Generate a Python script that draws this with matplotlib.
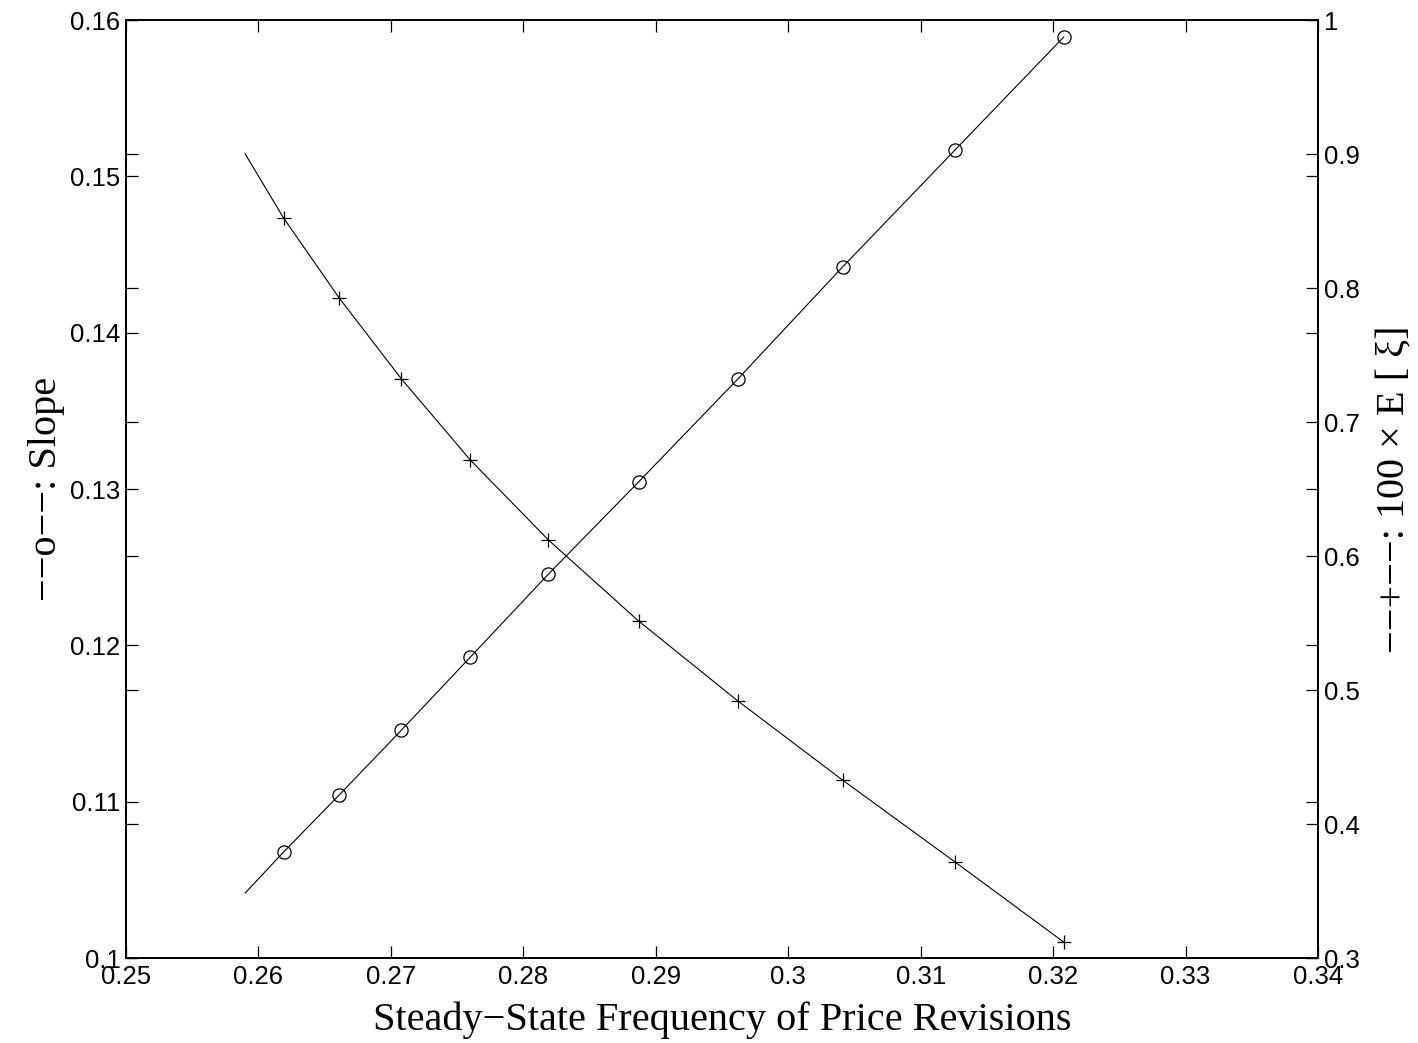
import numpy as np
import matplotlib
matplotlib.use("Agg")
import matplotlib.pyplot as plt
from matplotlib.ticker import FormatStrFormatter

# frequency of price revisions (first point is the line start, no marker)
freq = [0.2590, 0.2619, 0.2661, 0.2708, 0.2760, 0.2819, 0.2887,
        0.2962, 0.3041, 0.3126, 0.3208]

# slope (left axis), marked with 'o'
slope = [0.10416, 0.10678, 0.11043, 0.11458, 0.11925, 0.12456, 0.13045,
         0.13704, 0.14420, 0.15169, 0.15891]

# 100 x E[xi] (right axis), marked with '+'
exi = [0.9000, 0.8522, 0.7925, 0.7321, 0.6716, 0.6119, 0.5515,
       0.4918, 0.4328, 0.3716, 0.3119]

xticks = np.arange(0.25, 0.3401, 0.01)
lticks = np.arange(0.10, 0.1601, 0.01)
rticks = np.arange(0.3, 1.001, 0.1)

tickfont = "Liberation Sans"
labfont = "Liberation Serif"

fig = plt.figure(figsize=(14.18, 10.43), dpi=100)
ax = fig.add_axes([126/1418, 1 - 958/1043, (1318-126)/1418, (958-20)/1043])
ax2 = ax.twinx()

ax.plot(freq, slope, color="k", lw=0.8, marker="o", markevery=list(range(1, len(freq))),
        ms=9.5, mfc="none", mec="k", mew=0.9)
ax2.plot(freq, exi, color="k", lw=0.8, marker="+", markevery=list(range(1, len(freq))),
         ms=10, mec="k", mew=0.9)

ax.set_xlim(0.25, 0.34)
ax.set_ylim(0.1, 0.16)
ax2.set_ylim(0.3, 1.0)
ax.set_xticks(xticks)
ax.set_yticks(lticks)
ax2.set_yticks(rticks)
ax.xaxis.set_major_formatter(FormatStrFormatter("%g"))
ax.yaxis.set_major_formatter(FormatStrFormatter("%g"))
ax2.yaxis.set_major_formatter(FormatStrFormatter("%g"))

ax.tick_params(axis="both", direction="in", length=8.5, width=0.9,
               labelsize=18.5, pad=4, top=True, right=True)
ax2.tick_params(axis="y", direction="in", length=8.5, width=0.9,
                labelsize=18.5, pad=4, left=True)
ax.tick_params(axis="x", pad=5)

for a in (ax, ax2):
    for sp in a.spines.values():
        sp.set_linewidth(1.3)
    for lab in a.get_xticklabels() + a.get_yticklabels():
        lab.set_fontfamily(tickfont)

ax.set_xlabel("Steady\u2212State Frequency of Price Revisions",
              fontfamily=labfont, fontsize=29, labelpad=9)
ax.set_ylabel("\u2212\u2212o\u2212\u2212: Slope", fontfamily=labfont, fontsize=29, labelpad=4)
ax2.set_ylabel("\u2212\u2212+\u2212\u2212: 100 \u00d7 E [ \u03be]", fontfamily=labfont,
               fontsize=29, rotation=90, labelpad=12)

fig.savefig("out.png", dpi=100)
